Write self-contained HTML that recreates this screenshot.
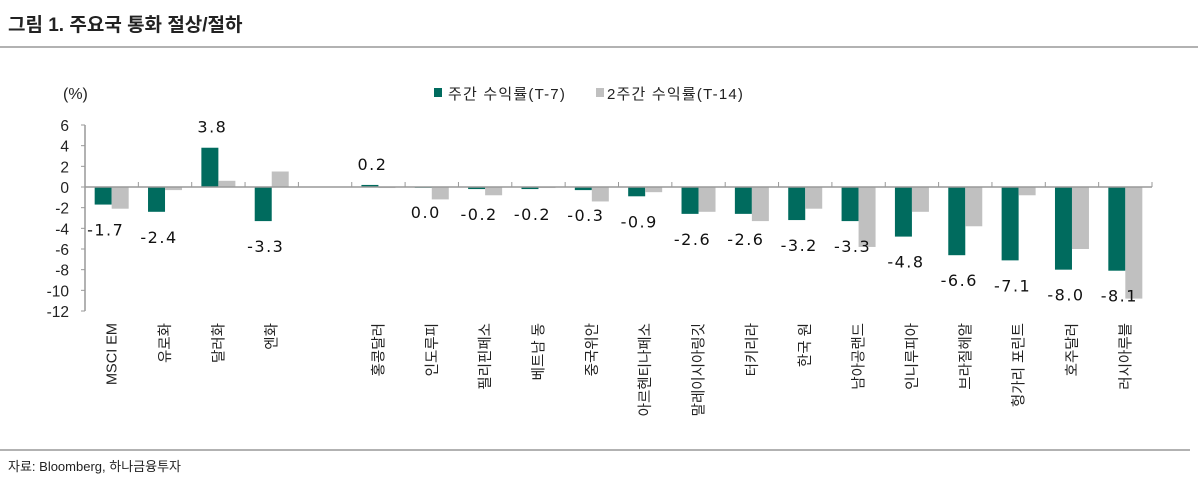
<!DOCTYPE html>
<html><head><meta charset="utf-8"><style>
body{margin:0;background:#fff;width:1198px;height:483px;overflow:hidden;font-family:"Liberation Sans","Noto Sans CJK KR",sans-serif}
svg{display:block}
</style></head><body>
<svg width="1198" height="483" xmlns="http://www.w3.org/2000/svg" font-family="Liberation Sans, Noto Sans CJK KR, sans-serif">
<text x="8" y="31" font-size="19" font-weight="bold" fill="#222">그림 1. 주요국 통화 절상/절하</text>
<line x1="0" y1="47" x2="1198" y2="47" stroke="#999" stroke-width="1.5"/>
<text x="63" y="99" font-size="16" fill="#222">(%)</text>
<g>
<rect x="434" y="88" width="8" height="9" fill="#006b5e"/>
<text x="448" y="99" font-size="15" letter-spacing="1.2" fill="#222">주간 수익률(T-7)</text>
<rect x="596" y="88" width="8" height="9" fill="#c0c0c0"/>
<text x="607" y="99" font-size="15" letter-spacing="1.2" fill="#222">2주간 수익률(T-14)</text>
</g>
<g id="plot"></g>
<line x1="0" y1="450" x2="1190" y2="450" stroke="#999" stroke-width="1.5"/>
<text x="8" y="471" font-size="13" fill="#222">자료: Bloomberg, 하나금융투자</text>
</svg>
<script>
const categories=["MSCI EM","유로화","달러화","엔화","","홍콩달러","인도루피","필리핀페소","베트남 동","중국위안","아르헨티나페소","말레이시아링깃","터키리라","한국 원","남아공랜드","인니루피아","브라질헤알","헝가리 포린트","호주달러","러시아루블"];
const weekly=[-1.7,-2.4,3.8,-3.3,null,0.2,0.0,-0.2,-0.2,-0.3,-0.9,-2.6,-2.6,-3.2,-3.3,-4.8,-6.6,-7.1,-8.0,-8.1];
const biweekly=[-2.1,-0.3,0.6,1.5,null,-0.1,-1.2,-0.8,-0.1,-1.4,-0.5,-2.4,-3.3,-2.1,-5.8,-2.4,-3.8,-0.8,-6.0,-10.8];
const yTicks=[6,4,2,0,-2,-4,-6,-8,-10,-12];
const NS="http://www.w3.org/2000/svg";
const g=document.getElementById('plot');
const x0=85,x1=1152,slot=(x1-x0)/categories.length;
const y=v=>187-(v)*(186/18);
function el(t,a){const e=document.createElementNS(NS,t);for(const k in a)e.setAttribute(k,a[k]);g.appendChild(e);return e;}
let ax=el('line',{x1:x0,y1:y(6),x2:x0,y2:y(-12),stroke:'#999','stroke-width':1.5});


yTicks.forEach(v=>{
 let t=el('line',{x1:x0-4,y1:y(v),x2:x0,y2:y(v),stroke:'#999'});
 
 
 let l=el('text',{x:x0-16,y:y(v)+6,'text-anchor':'end','font-size':15.5,fill:'#222'});
 l.textContent=v;
 
 
});
categories.forEach((c,i)=>{
 const cx=x0+slot*(i+0.5);
 let tk=el('line',{x1:x0+slot*(i+1),y1:187,x2:x0+slot*(i+1),y2:182,stroke:'#999'});
 
 
 if(weekly[i]!==null){
  const w=weekly[i],b=biweekly[i];
  let r1=el('rect',{x:cx-17,y:Math.min(y(w),y(0)),width:17,height:Math.max(Math.abs(y(w)-y(0)),0.8),fill:'#006b5e'});
  
  
  let r2=el('rect',{x:cx,y:Math.min(y(b),y(0)),width:17,height:Math.max(Math.abs(y(b)-y(0)),0.8),fill:'#c0c0c0'});
  
  
  let ly=w>0?y(w)-15:y(w)+31;
  let vl=el('text',{x:cx-6,y:ly,'text-anchor':'middle','font-size':16,'letter-spacing':1.5,fill:'#111','font-family':'DejaVu Sans, sans-serif'});
  vl.textContent=w.toFixed(1);
  
  
 }
 if(c){
  let xl=el('text',{x:0,y:0,'text-anchor':'end','font-size':14.5,fill:'#222',transform:`translate(${cx+5},323) rotate(-90)`});
  xl.textContent=c;
  
  
 }
});
let xa=el('line',{x1:x0,y1:187,x2:x1,y2:187,stroke:'#999','stroke-width':1.5});


</script>
</body></html>
